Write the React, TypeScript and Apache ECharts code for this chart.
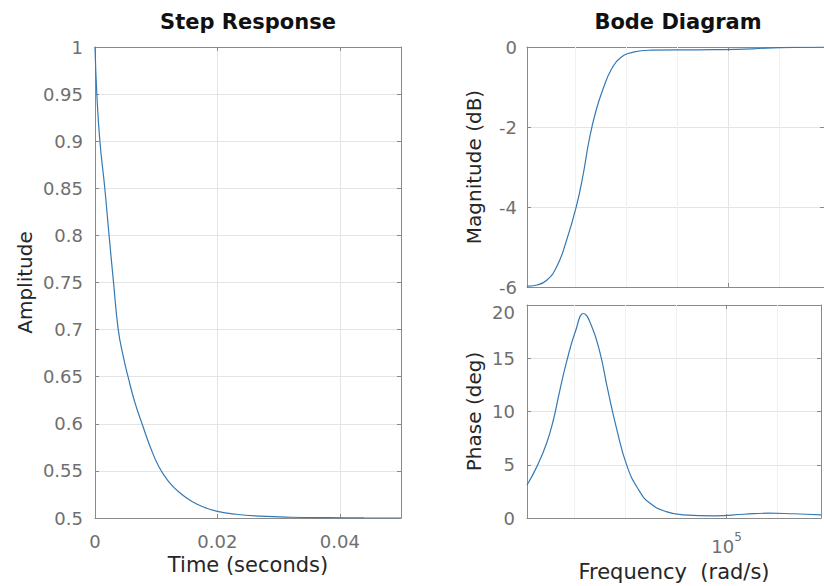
import React, { useEffect, useRef } from 'react';
import * as echarts from 'echarts';

// ---- Step response ----
const stepTime = [0, 0.0003, 0.0008, 0.0016, 0.0023, 0.003, 0.0038, 0.0046, 0.0054, 0.0065, 0.0078, 0.009, 0.0104, 0.012, 0.014, 0.016, 0.018, 0.02, 0.023, 0.027, 0.032, 0.038, 0.044, 0.05];
const stepAmp = [1.0, 0.95, 0.9, 0.85, 0.8, 0.752, 0.7, 0.672, 0.65, 0.623, 0.598, 0.576, 0.555, 0.539, 0.526, 0.517, 0.511, 0.507, 0.504, 0.502, 0.5008, 0.5003, 0.5001, 0.5];

// ---- Bode magnitude ----
const magFreq = [16270, 17780, 19430, 21230, 23190, 25340, 26960, 28430, 30260, 32480, 34850, 37750, 42360, 49700, 75320, 107350, 140000, 182600, 236100];
const magDb = [-5.98, -5.95, -5.83, -5.5, -4.85, -4.0, -3.2, -2.35, -1.6, -1.0, -0.55, -0.27, -0.13, -0.08, -0.07, -0.06, -0.03, -0.01, 0];

// ---- Bode phase ----
const phaseFreq = [16270, 17780, 19430, 20680, 21800, 23400, 25340, 27200, 29200, 31620, 33950, 36760, 40530, 45060, 49700, 57750, 67130, 89920, 117300, 146360, 182600, 236100];
const phaseDeg = [3.1, 4.8, 7.0, 9.2, 11.7, 14.8, 17.6, 19.2, 18.1, 15.5, 12.0, 8.4, 4.8, 2.6, 1.4, 0.6, 0.3, 0.2, 0.35, 0.45, 0.4, 0.3];

// ---- axes ----
const freqMin = 16270;
const freqMax = 236100;
const freqDecadeLabels = [1e5];
const minorGridFreq = [25119, 39811, 63096, 158489];
const timeTickStep = 0.02;
const ampTickStep = 0.05;
const magTickStep = 2;
const phaseTickStep = 5;

const FONT = 'DejaVu Sans';
const AXIS = '#8a8a8a';
const GRIDC = '#e4e4e4';
const MINOR = '#f1f1f1';
const LABEL = '#6f6f6f';
const NAME = '#262626';
const LINE = '#3479b4';

const tickInside = { show: true, inside: true, length: 4, lineStyle: { color: AXIS } };
const axisLineStyle = { show: true, onZero: false, lineStyle: { color: AXIS, width: 1 } };
const splitStyle = { show: true, lineStyle: { color: GRIDC, width: 1 } };
const labelStyle = { color: LABEL, fontSize: 18, fontFamily: FONT };
const nameStyle = { color: NAME, fontSize: 20, fontFamily: FONT };
const curve = { showSymbol: false, smooth: 0.5, lineStyle: { color: LINE, width: 1.2 }, z: 3 };

export default function App() {
  const ref = useRef<HTMLDivElement>(null);
  useEffect(() => {
    if (!ref.current) return;
    const chart = echarts.init(ref.current, undefined, { renderer: 'svg' });
    const option: any = {
      animation: false,
      backgroundColor: '#ffffff',
      grid: [
        { left: 95, top: 47, width: 306, height: 471 },
        { left: 527, top: 47, width: 302, height: 240 },
        { left: 527, top: 305, width: 302, height: 213 },
      ],
      graphic: [
        {
          type: 'text', x: 248, y: 22,
          style: { text: 'Step Response', font: `bold 21px "${FONT}"`, fill: '#111', textAlign: 'center', textVerticalAlign: 'middle', align: 'center', verticalAlign: 'middle' },
        },
        {
          type: 'text', x: 678, y: 22,
          style: { text: 'Bode Diagram', font: `bold 21px "${FONT}"`, fill: '#111', textAlign: 'center', textVerticalAlign: 'middle', align: 'center', verticalAlign: 'middle' },
        },
      ],
      xAxis: [
        {
          type: 'value', gridIndex: 0, min: 0, max: 0.05, interval: timeTickStep,
          axisLine: axisLineStyle, axisTick: tickInside,
          axisLabel: { ...labelStyle, margin: 14, showMaxLabel: false },
          splitLine: splitStyle,
          name: 'Time (seconds)', nameLocation: 'middle', nameGap: 35,
          nameTextStyle: { ...nameStyle, fontSize: 21 },
        },
        {
          type: 'value', gridIndex: 0, position: 'top', min: 0, max: 0.05, interval: timeTickStep,
          axisLine: axisLineStyle, axisTick: tickInside, axisLabel: { show: false }, splitLine: { show: false },
        },
        {
          type: 'log', gridIndex: 1, min: freqMin, max: freqMax,
          axisLine: axisLineStyle, axisTick: tickInside, axisLabel: { show: false }, splitLine: splitStyle,
        },
        {
          type: 'log', gridIndex: 2, min: freqMin, max: freqMax,
          axisLine: axisLineStyle, axisTick: tickInside,
          axisLabel: {
            margin: 13,
            formatter: (v: number) => {
              const hit = freqDecadeLabels.find((d) => Math.abs(Math.log10(v) - Math.log10(d)) < 1e-6);
              return hit ? `{b|10}{s|${Math.round(Math.log10(hit))}}` : '';
            },
            rich: {
              b: { fontSize: 18, fontFamily: FONT, color: LABEL, lineHeight: 30 },
              s: { fontSize: 12, fontFamily: FONT, color: LABEL, lineHeight: 14, verticalAlign: 'top' },
            },
          },
          splitLine: splitStyle,
          name: 'Frequency  (rad/s)', nameLocation: 'middle', nameGap: 43,
          nameTextStyle: { ...nameStyle, fontSize: 21 },
        },
        {
          type: 'log', gridIndex: 1, position: 'top', min: freqMin, max: freqMax,
          axisLine: axisLineStyle, axisTick: tickInside, axisLabel: { show: false }, splitLine: { show: false },
        },
        {
          type: 'log', gridIndex: 2, position: 'top', min: freqMin, max: freqMax,
          axisLine: axisLineStyle, axisTick: tickInside, axisLabel: { show: false }, splitLine: { show: false },
        },
      ],
      yAxis: [
        {
          type: 'value', gridIndex: 0, min: 0.5, max: 1, interval: ampTickStep,
          axisLine: axisLineStyle, axisTick: tickInside,
          axisLabel: { ...labelStyle, margin: 12 },
          splitLine: splitStyle,
          name: 'Amplitude', nameLocation: 'middle', nameGap: 60, nameTextStyle: nameStyle,
        },
        {
          type: 'value', gridIndex: 0, position: 'right', min: 0.5, max: 1, interval: ampTickStep,
          axisLine: axisLineStyle, axisTick: tickInside, axisLabel: { show: false }, splitLine: { show: false },
        },
        {
          type: 'value', gridIndex: 1, min: -6, max: 0, interval: magTickStep,
          axisLine: axisLineStyle, axisTick: tickInside,
          axisLabel: { ...labelStyle, margin: 10, lineHeight: 14 },
          splitLine: splitStyle,
          name: 'Magnitude (dB)', nameLocation: 'middle', nameGap: 43, nameTextStyle: nameStyle,
        },
        {
          type: 'value', gridIndex: 2, min: 0, max: 20, interval: phaseTickStep,
          axisLine: axisLineStyle, axisTick: tickInside,
          axisLabel: { ...labelStyle, margin: 12, lineHeight: 14, verticalAlignMaxLabel: 'top' },
          splitLine: splitStyle,
          name: 'Phase (deg)', nameLocation: 'middle', nameGap: 43, nameTextStyle: nameStyle,
        },
        {
          type: 'value', gridIndex: 1, position: 'right', min: -6, max: 0, interval: magTickStep,
          axisLine: axisLineStyle, axisTick: tickInside, axisLabel: { show: false }, splitLine: { show: false },
        },
        {
          type: 'value', gridIndex: 2, position: 'right', min: 0, max: 20, interval: phaseTickStep,
          axisLine: axisLineStyle, axisTick: tickInside, axisLabel: { show: false }, splitLine: { show: false },
        },
      ],
      series: [
        {
          type: 'line', xAxisIndex: 0, yAxisIndex: 0,
          data: stepTime.map((t, i) => [t, stepAmp[i]]),
          ...curve,
        },
        {
          type: 'line', xAxisIndex: 2, yAxisIndex: 2,
          data: magFreq.map((f, i) => [f, magDb[i]]),
          ...curve,
          markLine: {
            silent: true, symbol: ['none', 'none'], label: { show: false }, z: 1,
            lineStyle: { color: MINOR, width: 1, type: 'solid' },
            data: minorGridFreq.map((v) => ({ xAxis: v })),
          },
        },
        {
          type: 'line', xAxisIndex: 3, yAxisIndex: 3,
          data: phaseFreq.map((f, i) => [f, phaseDeg[i]]),
          ...curve,
          markLine: {
            silent: true, symbol: ['none', 'none'], label: { show: false }, z: 1,
            lineStyle: { color: MINOR, width: 1, type: 'solid' },
            data: minorGridFreq.map((v) => ({ xAxis: v })),
          },
        },
      ],
    };
    chart.setOption(option);
    return () => chart.dispose();
  }, []);
  return (
    <div
      ref={ref}
      style={{ position: 'fixed', left: 0, top: 0, width: 824, height: 586, background: '#fff' }}
    />
  );
}
